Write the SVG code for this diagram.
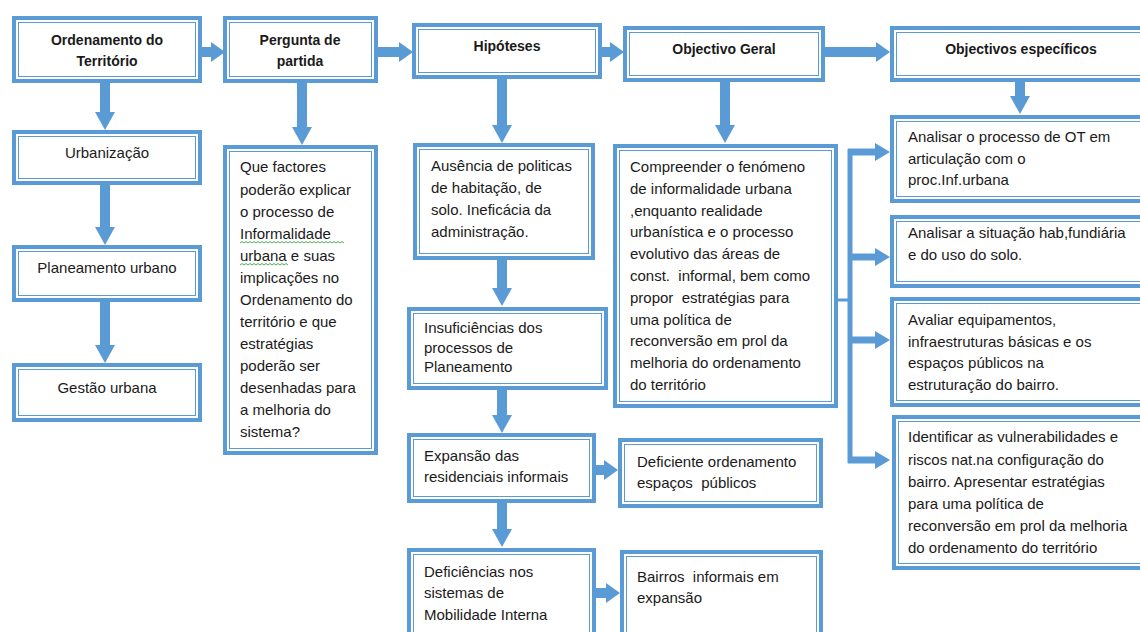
<svg xmlns="http://www.w3.org/2000/svg" width="1140" height="632" viewBox="0 0 1140 632">
<style>
.o{fill:#fff;stroke:#5B9BD5;stroke-width:4}
.i{fill:none;stroke:#5B9BD5;stroke-width:1}
.t{font-family:"Liberation Sans",Arial,sans-serif;font-size:15px;fill:#1a1a1a;white-space:pre}
.b{font-family:"Liberation Sans",Arial,sans-serif;font-size:14px;font-weight:bold;fill:#1a1a1a;text-anchor:middle}
.c{text-anchor:middle}
.a{fill:none;stroke:#5B9BD5;stroke-width:10}
.s{fill:none;stroke:#5B9BD5;stroke-width:7}
.sq{fill:none;stroke:#4caf50;stroke-width:1}
</style>
<defs>
<marker id="hh" viewBox="0 0 14 20" refX="1" refY="10" markerWidth="14" markerHeight="20" markerUnits="userSpaceOnUse" orient="auto"><path d="M0,0 L14,10 L0,20 z" fill="#5B9BD5"/></marker>
<marker id="hv" viewBox="0 0 18 20" refX="1" refY="10" markerWidth="18" markerHeight="20" markerUnits="userSpaceOnUse" orient="auto"><path d="M0,0 L18,10 L0,20 z" fill="#5B9BD5"/></marker>
<marker id="hs" viewBox="0 0 15 18" refX="1" refY="9" markerWidth="15" markerHeight="18" markerUnits="userSpaceOnUse" orient="auto"><path d="M0,0 L15,9 L0,18 z" fill="#5B9BD5"/></marker>
</defs>

<g id="connectors">
<path class="a" d="M200,52 H212" marker-end="url(#hh)"/>
<path class="a" d="M376,52 H400" marker-end="url(#hh)"/>
<path class="a" d="M600,52 H611" marker-end="url(#hh)"/>
<path class="a" d="M823,52 H877" marker-end="url(#hh)"/>
<path class="a" d="M105,81 V113" marker-end="url(#hv)"/>
<path class="a" d="M105,183 V228" marker-end="url(#hv)"/>
<path class="a" d="M105,300 V346" marker-end="url(#hv)"/>
<path class="a" d="M302,81 V128" marker-end="url(#hv)"/>
<path class="a" d="M502,77 V126" marker-end="url(#hv)"/>
<path class="a" d="M725,80 V126" marker-end="url(#hv)"/>
<path class="a" d="M1020,80 V97" marker-end="url(#hv)"/>
<path class="a" d="M502,258 V289" marker-end="url(#hv)"/>
<path class="a" d="M502,388 V416" marker-end="url(#hv)"/>
<path class="a" d="M594,470 H605" marker-end="url(#hh)"/>
<path class="a" d="M502,501 V530" marker-end="url(#hv)"/>
<path class="a" d="M594,593 H607" marker-end="url(#hh)"/>
<path fill="none" stroke="#5B9BD5" stroke-width="3" d="M823,300 H850"/>
<path fill="none" stroke="#5B9BD5" stroke-width="5" d="M850,149 V463"/>
<path class="s" d="M848,152 H876" marker-end="url(#hs)"/>
<path class="s" d="M848,257 H876" marker-end="url(#hs)"/>
<path class="s" d="M848,340 H876" marker-end="url(#hs)"/>
<path class="s" d="M848,460 H876" marker-end="url(#hs)"/>
</g>

<g id="n1"><rect class="o" x="14" y="18" width="186" height="63"/><rect class="i" x="18.5" y="22.5" width="177" height="54"/>
<text class="b" x="107" y="45">Ordenamento do</text><text class="b" x="107" y="66">Território</text></g>

<g id="n2"><rect class="o" x="225" y="18" width="151" height="63"/><rect class="i" x="229.5" y="22.5" width="142" height="54"/>
<text class="b" x="300" y="45">Pergunta de</text><text class="b" x="300" y="66">partida</text></g>

<g id="n3"><rect class="o" x="414" y="25" width="186" height="52"/><rect class="i" x="418.5" y="29.5" width="177" height="43"/>
<text class="b" x="507" y="51">Hipóteses</text></g>

<g id="n4"><rect class="o" x="625" y="28" width="198" height="52"/><rect class="i" x="629.5" y="32.5" width="189" height="43"/>
<text class="b" x="724" y="54">Objectivo Geral</text></g>

<g id="n5"><rect class="o" x="892" y="28" width="261" height="52"/><rect class="i" x="896.5" y="32.5" width="252" height="43"/>
<text class="b" x="1021" y="54">Objectivos específicos</text></g>

<g id="n6"><rect class="o" x="14" y="132" width="186" height="51"/><rect class="i" x="18.5" y="136.5" width="177" height="42"/>
<text class="t c" x="107" y="158">Urbanização</text></g>

<g id="n7"><rect class="o" x="14" y="247" width="186" height="53"/><rect class="i" x="18.5" y="251.5" width="177" height="44"/>
<text class="t c" x="107" y="273">Planeamento urbano</text></g>

<g id="n8"><rect class="o" x="14" y="365" width="186" height="55"/><rect class="i" x="18.5" y="369.5" width="177" height="46"/>
<text class="t c" x="107" y="393">Gestão urbana</text></g>

<g id="n9"><rect class="o" x="225" y="147" width="151" height="306"/><rect class="i" x="229.5" y="151.5" width="142" height="297"/>
<text class="t" x="240" y="172">Que factores</text>
<text class="t" x="240" y="195">poderão explicar</text>
<text class="t" x="240" y="217">o processo de</text>
<text class="t" x="240" y="239">Informalidade</text>
<text class="t" x="240" y="261">urbana e suas</text>
<text class="t" x="240" y="283">implicações no</text>
<text class="t" x="240" y="305">Ordenamento do</text>
<text class="t" x="240" y="327">território e que</text>
<text class="t" x="240" y="349">estratégias</text>
<text class="t" x="240" y="371">poderão ser</text>
<text class="t" x="240" y="393">desenhadas para</text>
<text class="t" x="240" y="415">a melhoria do</text>
<text class="t" x="240" y="437">sistema?</text>
<path class="sq" d="M240,243 l2,-1.5 l2,1.5 l2,-1.5 l2,1.5 l2,-1.5 l2,1.5 l2,-1.5 l2,1.5 l2,-1.5 l2,1.5 l2,-1.5 l2,1.5 l2,-1.5 l2,1.5 l2,-1.5 l2,1.5 l2,-1.5 l2,1.5 l2,-1.5 l2,1.5 l2,-1.5 l2,1.5 l2,-1.5 l2,1.5 l2,-1.5 l2,1.5 l2,-1.5 l2,1.5 l2,-1.5 l2,1.5 l2,-1.5 l2,1.5 l2,-1.5 l2,1.5 l2,-1.5 l2,1.5 l2,-1.5 l2,1.5 l2,-1.5 l2,1.5 l2,-1.5 l2,1.5 l2,-1.5 l2,1.5 l2,-1.5 l2,1.5 l2,-1.5 l2,1.5 l2,-1.5 l2,1.5 l2,-1.5 l2,1.5"/>
<path class="sq" d="M240,265 l2,-1.5 l2,1.5 l2,-1.5 l2,1.5 l2,-1.5 l2,1.5 l2,-1.5 l2,1.5 l2,-1.5 l2,1.5 l2,-1.5 l2,1.5 l2,-1.5 l2,1.5 l2,-1.5 l2,1.5 l2,-1.5 l2,1.5 l2,-1.5 l2,1.5 l2,-1.5 l2,1.5 l2,-1.5 l2,1.5"/>
</g>

<g id="n10"><rect class="o" x="415" y="145" width="178" height="113"/><rect class="i" x="419.5" y="149.5" width="169" height="104"/>
<text class="t" x="431" y="171">Ausência de politicas</text>
<text class="t" x="431" y="193">de habitação, de</text>
<text class="t" x="431" y="215">solo. Ineficácia da</text>
<text class="t" x="431" y="237">administração.</text></g>

<g id="n11"><rect class="o" x="409" y="309" width="197" height="79"/><rect class="i" x="413.5" y="313.5" width="188" height="70"/>
<text class="t" x="424" y="333">Insuficiências dos</text>
<text class="t" x="424" y="353">processos de</text>
<text class="t" x="424" y="372">Planeamento</text></g>

<g id="n12"><rect class="o" x="409" y="435" width="185" height="66"/><rect class="i" x="413.5" y="439.5" width="176" height="57"/>
<text class="t" x="424" y="461">Expansão das</text>
<text class="t" x="424" y="482">residenciais informais</text></g>

<g id="n13"><rect class="o" x="409" y="550" width="185" height="100"/><rect class="i" x="413.5" y="554.5" width="176" height="91"/>
<text class="t" x="424" y="577">Deficiências nos</text>
<text class="t" x="424" y="598">sistemas de</text>
<text class="t" x="424" y="620">Mobilidade Interna</text></g>

<g id="n14"><rect class="o" x="620" y="440" width="201" height="66"/><rect class="i" x="624.5" y="444.5" width="192" height="57"/>
<text class="t" x="637" y="467">Deficiente ordenamento</text>
<text class="t" x="637" y="488">espaços  públicos</text></g>

<g id="n15"><rect class="o" x="622" y="552" width="199" height="100"/><rect class="i" x="626.5" y="556.5" width="190" height="91"/>
<text class="t" x="637" y="582">Bairros  informais em</text>
<text class="t" x="637" y="603">expansão</text></g>

<g id="n16"><rect class="o" x="615" y="146" width="221" height="260"/><rect class="i" x="619.5" y="150.5" width="212" height="251"/>
<text class="t" x="630" y="172">Compreender o fenómeno</text>
<text class="t" x="630" y="194">de informalidade urbana</text>
<text class="t" x="630" y="216">,enquanto realidade</text>
<text class="t" x="630" y="237">urbanística e o processo</text>
<text class="t" x="630" y="259">evolutivo das áreas de</text>
<text class="t" x="630" y="281">const.  informal, bem como</text>
<text class="t" x="630" y="303">propor  estratégias para</text>
<text class="t" x="630" y="325">uma política de</text>
<text class="t" x="630" y="346">reconversão em prol da</text>
<text class="t" x="630" y="368">melhoria do ordenamento</text>
<text class="t" x="630" y="390">do território</text></g>

<g id="n17"><rect class="o" x="892" y="117" width="261" height="84"/><rect class="i" x="896.5" y="121.5" width="252" height="75"/>
<text class="t" x="908" y="142">Analisar o processo de OT em</text>
<text class="t" x="908" y="164">articulação com o</text>
<text class="t" x="908" y="185">proc.Inf.urbana</text></g>

<g id="n18"><rect class="o" x="892" y="217" width="261" height="69"/><rect class="i" x="896.5" y="221.5" width="252" height="60"/>
<text class="t" x="908" y="238">Analisar a situação hab,fundiária</text>
<text class="t" x="908" y="260">e do uso do solo.</text></g>

<g id="n19"><rect class="o" x="892" y="299" width="261" height="106"/><rect class="i" x="896.5" y="303.5" width="252" height="97"/>
<text class="t" x="908" y="325">Avaliar equipamentos,</text>
<text class="t" x="908" y="347">infraestruturas básicas e os</text>
<text class="t" x="908" y="368">espaços públicos na</text>
<text class="t" x="908" y="390">estruturação do bairro.</text></g>

<g id="n20"><rect class="o" x="894" y="417" width="261" height="151"/><rect class="i" x="898.5" y="421.5" width="252" height="142"/>
<text class="t" x="908" y="442">Identificar as vulnerabilidades e</text>
<text class="t" x="908" y="465">riscos nat.na configuração do</text>
<text class="t" x="908" y="487">bairro. Apresentar estratégias</text>
<text class="t" x="908" y="509">para uma política de</text>
<text class="t" x="908" y="531">reconversão em prol da melhoria</text>
<text class="t" x="908" y="553">do ordenamento do território</text></g>
</svg>
